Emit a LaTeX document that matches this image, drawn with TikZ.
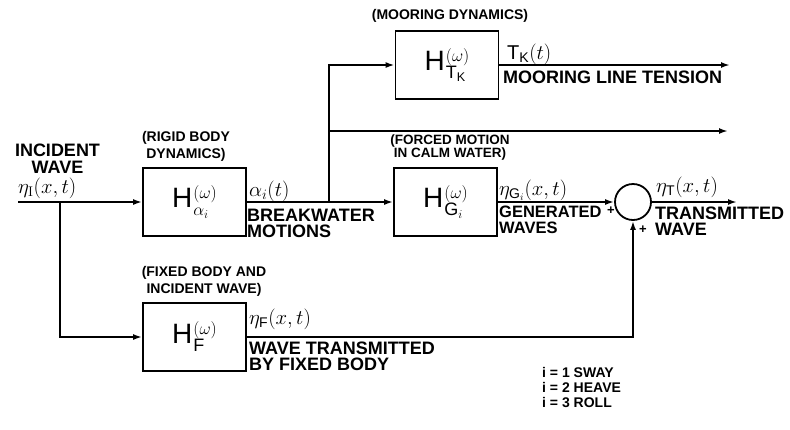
\documentclass[tikz,border=0pt]{standalone}
\usepackage{fontspec}
\setsansfont{Liberation Sans}
\usetikzlibrary{positioning,arrows.meta}
\newcommand{\tfn}[1]{H\kern1pt\rlap{\raisebox{-8pt}{\fontsize{18}{18}\selectfont #1}}\raisebox{9pt}{\fontsize{17}{17}\selectfont$(\omega)$}}
\tikzset{
  blk/.style={draw,line width=1.8pt,minimum width=103pt,minimum height=68pt,inner sep=0pt,font=\fontsize{28}{28}\selectfont\sffamily},
  sumpt/.style={draw,circle,line width=1.8pt,minimum size=36pt,inner sep=0pt},
  wire/.style={line width=1.8pt},
  sig/.style={wire,-{Latex[length=9pt,width=6pt]}},
  lab/.style={font=\fontsize{18}{16}\selectfont\sffamily\bfseries,align=left,inner sep=0pt},
  note/.style={font=\fontsize{14}{17}\selectfont\sffamily\bfseries,align=center,inner sep=0pt},
  vlab/.style={font=\fontsize{20}{20}\selectfont,inner sep=0pt},
  pm/.style={font=\fontsize{13}{13}\selectfont\sffamily\bfseries,inner sep=0pt}
}
\begin{document}
\begin{tikzpicture}[x=1pt,y=-1pt]
  \useasboundingbox (0,0) rectangle (790,429);
  % transfer functions
  \node[blk] (Ha) at (194.5,202) {\tfn{$\alpha_i$}};
  \node[blk] (HG) at (445.5,202) {\tfn{G$_i$}};
  \node[blk] (HT) at (447,65) {\tfn{T$_\mathsf{K}$}};
  \node[blk] (HF) at (194.5,337) {\tfn{F}};
  \node[sumpt] (sum) at (633,202) {};
  \coordinate (in) at (18,202);
  \coordinate (tap) at (60,202);
  \coordinate (tap2) at (329,202);
  \coordinate (tens) at (730,65);
  \coordinate (midout) at (728,131);
  \coordinate (trans) at (737,202);
  % connectors
  \draw[sig] (in) -- (Ha);
  \draw[sig] (tap) |- (HF);
  \draw[sig] (Ha) -- (HG);
  \draw[sig] (tap2) |- (HT);
  \draw[sig] (tap2 |- midout) -- (midout);
  \draw[sig] (HT) -- (tens);
  \draw[sig] (HG) -- (sum);
  \draw[sig] (sum) -- (trans);
  \draw[sig] (HF) -| (sum);
  % notes over the boxes
  \node[note] (nHa) at (186,146) {(RIGID BODY\\DYNAMICS)};
  \node[note] (nHT) at (450,16) {(MOORING DYNAMICS)};
  \node[note,font=\fontsize{13.5}{13}\selectfont\sffamily\bfseries] (nHG) at (450,148) {(FORCED MOTION\\IN CALM WATER)};
  \node[note] (nHF) at (204,281) {(FIXED BODY AND\\INCIDENT WAVE)};
  % signals
  \node[lab,align=center,font=\fontsize{18}{17}\selectfont\sffamily\bfseries] (inc) at (57.5,159) {INCIDENT\\WAVE};
  \node[vlab,anchor=base west] (etaI) at (18,193) {$\eta_{\mathrm{I}}(x,t)$};
  \node[vlab,anchor=base west] (alf) at (249,196) {$\alpha_i(t)$};
  \node[lab,anchor=north west] (bw) at (247,209) {BREAKWATER\\MOTIONS};
  \node[vlab,anchor=base west] (tk) at (507,59) {$\mathsf{T}_{\mathsf{K}}(t)$};
  \node[lab,anchor=north west] (mlt) at (503,71) {MOORING LINE TENSION};
  \node[vlab,anchor=base west] (etaG) at (499,195) {$\eta_{\mathsf{G}_i}(x,t)$};
  \node[lab,anchor=north west,font=\fontsize{16.5}{16}\selectfont\sffamily\bfseries] (gw) at (499,206) {GENERATED\\WAVES};
  \node[vlab,anchor=base west] (etaT) at (656,192) {$\eta_{\mathsf{T}}(x,t)$};
  \node[lab,anchor=north west] (tw) at (655,207) {TRANSMITTED\\WAVE};
  \node[vlab,anchor=base west] (etaF) at (249,324) {$\eta_{\mathsf{F}}(x,t)$};
  \node[lab,anchor=north west] (wt) at (249,342) {WAVE TRANSMITTED\\BY FIXED BODY};
  \node[pm] (p1) at (611,211) {+};
  \node[pm] (p2) at (643,230) {+};
  % legend
  \node[lab,anchor=north west,font=\fontsize{14}{15}\selectfont\sffamily\bfseries] (key) at (542,367) {i = 1 SWAY\\i = 2 HEAVE\\i = 3 ROLL};
\end{tikzpicture}
\end{document}
